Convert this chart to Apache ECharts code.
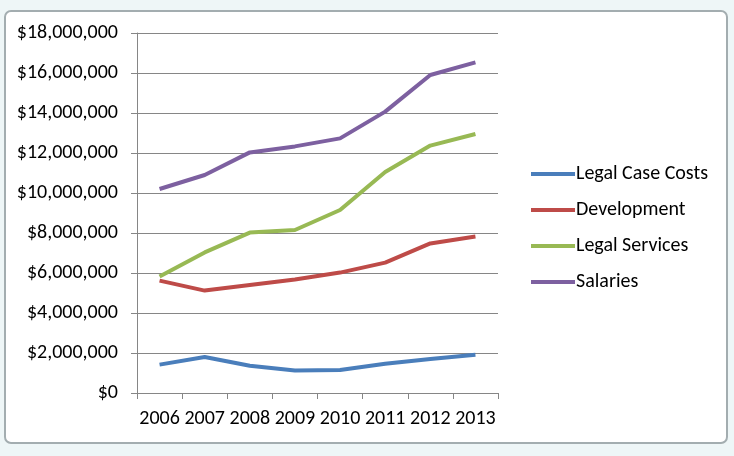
<!DOCTYPE html>
<html><head><meta charset="utf-8">
<script src="https://cdn.jsdelivr.net/npm/echarts@6/dist/echarts.min.js"></script>
<style>html,body{margin:0;padding:0;background:#fff}#c{width:734px;height:456px}</style>
</head><body><div id="c"></div>
<script>
const years = ['2006','2007','2008','2009','2010','2011','2012','2013'];
const legalCaseCosts = [1420000, 1800000, 1360000, 1120000, 1150000, 1460000, 1700000, 1910000];
const development = [5620000, 5120000, 5400000, 5680000, 6020000, 6520000, 7480000, 7820000];
const legalServices = [5820000, 7030000, 8020000, 8150000, 9150000, 11050000, 12370000, 12950000];
const salaries = [10200000, 10900000, 12030000, 12330000, 12730000, 14070000, 15900000, 16530000];
const names = ['Legal Case Costs','Development','Legal Services','Salaries'];
const colors = ['#4a7ebb','#be4b48','#98b954','#7d60a0'];
const FONT = "Carlito, 'Liberation Sans Narrow', 'Open Sans', sans-serif";
const chart = echarts.init(document.getElementById('c'));
const mk = (name, data, i) => ({
  name, type:'line', data, symbol:'none', smooth:false,
  lineStyle:{width:4, color:colors[i]}, itemStyle:{color:colors[i]}
});
chart.setOption({
  backgroundColor:'#eef6f7',
  animation:false,
  graphic:[{type:'rect', shape:{x:5,y:11,width:722,height:432,r:6}, style:{fill:'#fff', stroke:'#a3adb0', lineWidth:2}, z:-10}],
  grid:{left:137, right:236, top:33, bottom:63},
  legend:{orient:'vertical', left:526, top:159, itemGap:16, itemWidth:44, itemHeight:22,
    icon:'path://M0,9 L44,9 L44,13 L0,13 Z',
    textStyle:{fontFamily:FONT, fontSize:20, color:'#000', padding:[0,0,0,-4]}, data:names},
  xAxis:{type:'category', data:years, boundaryGap:true,
    axisLine:{lineStyle:{color:'#868686', width:1}},
    axisTick:{show:true, length:6, lineStyle:{color:'#868686'}},
    axisLabel:{fontFamily:FONT, fontSize:20, color:'#000', margin:16, interval:0, hideOverlap:false}},
  yAxis:{type:'value', min:0, max:18000000, interval:2000000,
    axisLine:{show:true, lineStyle:{color:'#868686'}},
    axisTick:{show:true, length:6, lineStyle:{color:'#868686'}},
    splitLine:{lineStyle:{color:'#868686', width:1}},
    axisLabel:{fontFamily:FONT, fontSize:20, color:'#000', margin:19,
      formatter:v=>'$'+v.toLocaleString('en-US')}},
  series:[mk(names[0],legalCaseCosts,0), mk(names[1],development,1), mk(names[2],legalServices,2), mk(names[3],salaries,3)]
});
</script></body></html>
